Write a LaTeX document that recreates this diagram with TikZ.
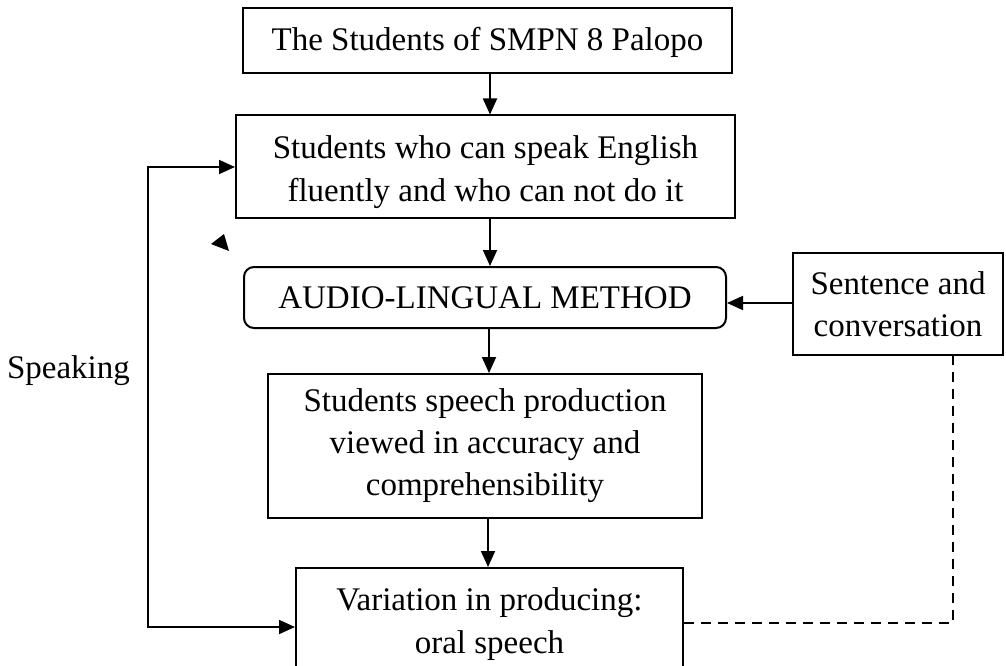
\documentclass[tikz,border=0pt]{standalone}
\usepackage{fontspec}
\setmainfont{Liberation Serif}
\usetikzlibrary{arrows.meta,calc}
\tikzset{
  box/.style={draw, line width=2pt, inner sep=0pt, align=center, font=\fontsize{33}{42}\selectfont},
  rbox/.style={box, rounded corners=10pt},
  tip/.style={Triangle[length=16pt,width=14pt]},
  arr/.style={line width=1.8pt, -{Triangle[length=16pt,width=14pt]}},
  dash line/.style={line width=2pt, dash pattern=on 10pt off 7pt},
  lbl/.style={inner sep=0pt, font=\fontsize{33}{43}\selectfont}
}
\begin{document}
\begin{tikzpicture}[x=1pt,y=-1pt]
\clip (0,0) rectangle (1006,666);
\fill[white] (0,0) rectangle (1006,666);

\node[box, minimum width=489pt, minimum height=65pt] (b1) at (487.5,40.5) {};
\node[lbl] (b1t) at (487.5,42.5) {The Students of SMPN 8 Palopo};
\node[box, minimum width=499pt, minimum height=102pt] (b2) at (485.5,166.5) {};
\node[lbl, align=center] (b2t) at (485.5,172.5) {Students who can speak English\\fluently and who can not do it};
\node[rbox, minimum width=482pt, minimum height=61pt] (b3) at (485,297.5) {AUDIO-LINGUAL METHOD};
\node[box, minimum width=210pt, minimum height=102pt] (b4) at (898,304) {Sentence and\\conversation};
\node[box, minimum width=434pt, minimum height=144pt] (b5) at (485,446) {Students speech production\\viewed in accuracy and\\comprehensibility};
\node[box, minimum width=387pt, minimum height=152pt] (b6) at (489.5,644) {};
\node[lbl, align=center, anchor=north] (b6t) at (489.5,587) {Variation in producing:\\oral speech};
\node[lbl] (spk) at (68.5,371) {Speaking};

% vertical flow arrows
\coordinate (x1) at (490,0);
\coordinate (x2) at (490,0);
\coordinate (x3) at (489,0);
\coordinate (x4) at (488,0);
\draw[arr] (b1.south -| x1) -- (b2.north -| x1);
\draw[arr] (b2.south -| x2) -- (b3.north -| x2);
\draw[arr] (b3.south -| x3) -- (b5.north -| x3);
\draw[arr] (b5.south -| x4) -- (b6.north -| x4);

% input arrow
\draw[arr] (b4.west |- 0,303) -- (b3.east |- 0,303);

% feedback line
\coordinate (f1) at (148,167);
\coordinate (f2) at (148,627);
\draw[line width=1.8pt, {Triangle[length=16pt,width=14pt]}-{Triangle[length=16pt,width=14pt]}]
  (b2.west |- f1) -- (f1) -- (f2) -- (b6.west |- f2);

% dashed return
\coordinate (dc) at (953,623);
\draw[dash line] (b6.east |- dc) -- (dc) -- (dc |- b4.south);

% stray arrowhead
\fill (211,244) -- (224,234) -- (229,251) -- cycle;
\end{tikzpicture}
\end{document}
